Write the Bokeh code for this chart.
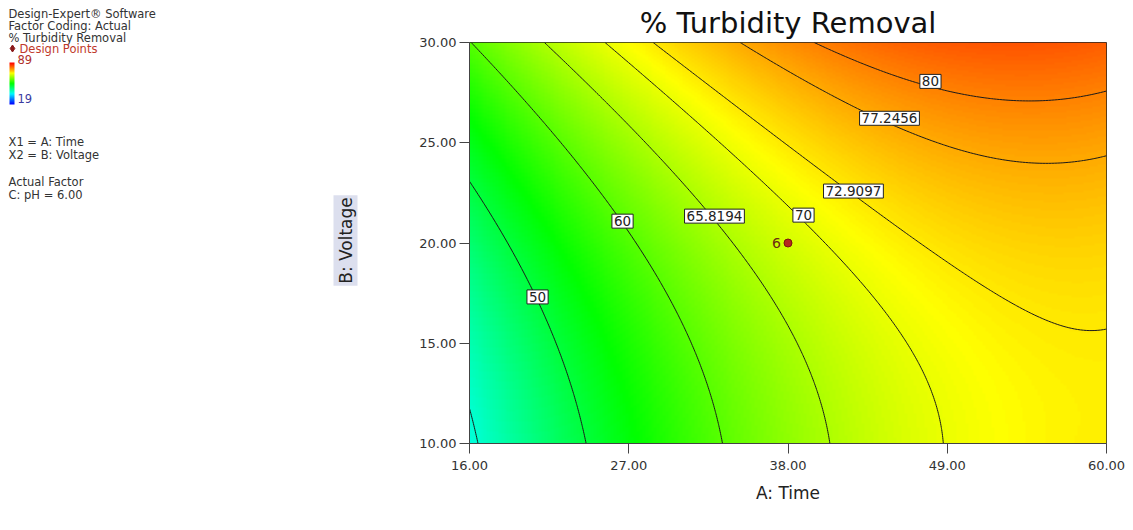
import numpy as np
from bokeh.plotting import figure
from bokeh.models import (Range1d, FixedTicker, LinearColorMapper, ColumnDataSource,
                          NumeralTickFormatter)
from bokeh.layouts import row
from bokeh.core.properties import value
from bokeh.embed import file_html
from bokeh.resources import INLINE

# ---------------- data ----------------
# points on the drawn contour lines (A: Time [min], B: Voltage [V]) and their level
cont_level = [40, 40,
              50, 50, 50, 50,
              60, 60, 60, 60,
              65.8194, 65.8194, 65.8194, 65.8194, 65.8194, 65.8194,
              70, 70, 70, 70, 70,
              72.9097, 72.9097, 72.9097, 72.9097, 72.9097, 72.9097, 72.9097,
              77.2456, 77.2456, 77.2456, 77.2456,
              80, 80, 80, 80]
cont_time = [16.0, 16.62,
             16.07, 18.14, 20.70, 24.01,
             16.0, 26.6, 29.88, 33.48,
             21.25, 25.05, 28.71, 33.06, 36.79, 40.80,
             25.39, 33.82, 39.0, 43.9, 48.95,
             28.92, 31.96, 38.17, 42.52, 47.64, 57.5, 59.93,
             34.58, 45.08, 55.44, 59.93,
             39.69, 47.84, 54.27, 59.93]
cont_voltage = [11.64, 10.0,
                22.99, 20.6, 17.36, 10.0,
                30.0, 21.1, 17.11, 10.0,
                30.0, 27.2, 24.58, 21.09, 17.11, 10.0,
                30.0, 24.58, 21.34, 17.11, 10.0,
                30.0, 28.2, 24.58, 22.59, 19.6, 15.87, 15.87,
                30.0, 25.82, 23.93, 24.33,
                30.0, 28.06, 26.97, 27.56]

contour_levels = [40, 50, 60, 65.8194, 70, 72.9097, 77.2456, 80]

label_text = ["50", "60", "65.8194", "70", "72.9097", "77.2456", "80"]
label_time = [20.70, 26.57, 32.92, 39.07, 42.52, 45.01, 47.84]
label_voltage = [17.31, 21.09, 21.34, 21.39, 22.59, 26.22, 28.06]

design_time = [38.0]
design_voltage = [20.0]
design_reps = ["6"]

x_ticks = [16, 27, 38, 49, 60]
y_ticks = [10, 15, 20, 25, 30]
resp_low, resp_high = 19, 89

info_text = ["Design-Expert\u00ae Software", "Factor Coding: Actual", "% Turbidity Removal",
             "Design Points", str(resp_high), str(resp_low),
             "X1 = A: Time", "X2 = B: Voltage", "Actual Factor", "C: pH = 6.00"]
info_color = ["#333333", "#333333", "#333333", "#c0392b", "#b0302a", "#3a3aa0",
              "#333333", "#333333", "#333333", "#333333"]

# ---------------- quadratic response surface fitted to the read contours ----------------
A = np.array(cont_time); B = np.array(cont_voltage); Y = np.array(cont_level)
X = np.column_stack([np.ones_like(A), A, B, A * B, A ** 2, B ** 2])
coef, *_ = np.linalg.lstsq(X, Y, rcond=None)

ax = np.linspace(16, 60, 221)
ay = np.linspace(10, 30, 201)
GA, GB = np.meshgrid(ax, ay)
Z = (coef[0] + coef[1] * GA + coef[2] * GB + coef[3] * GA * GB
     + coef[4] * GA ** 2 + coef[5] * GB ** 2)

# Design-Expert style colour ramp: blue - cyan - green - yellow - red
anchors = [(0, 0, 255), (0, 255, 255), (0, 255, 0), (255, 255, 0), (255, 0, 0)]
palette = []
n = 256
for i in range(n):
    t = i / (n - 1) * (len(anchors) - 1)
    k = min(int(t), len(anchors) - 2)
    f = t - k
    c = [round(anchors[k][j] + (anchors[k + 1][j] - anchors[k][j]) * f) for j in range(3)]
    palette.append("#%02x%02x%02x" % tuple(c))
mapper = LinearColorMapper(palette=palette, low=resp_low, high=resp_high)

FONT = value("DejaVu Sans")
H = 526
LW = 400            # width of the left information panel
FL, FT, FR, FB = 469, 41, 1106, 443   # frame edges on the page

# ---------------- main contour plot ----------------
MW = 725
p = figure(width=MW, height=H, x_range=Range1d(16, 60), y_range=Range1d(10, 30),
           output_backend="svg", toolbar_location=None,
           min_border_left=FL - LW, min_border_right=LW + MW - FR, min_border_top=FT,
           min_border_bottom=H - FB, title="% Turbidity Removal")
p.title.align = "center"
p.title.text_font = "DejaVu Sans"
p.title.text_font_size = "29px"
p.title.text_font_style = "normal"
p.title.text_color = "#111111"
p.title.standoff = 6
p.title.offset = 12

p.image(image=[Z], x=16, y=10, dw=44, dh=20, color_mapper=mapper)
p.contour(ax, ay, Z, levels=contour_levels, line_color="#1a1a1a", line_width=1)

lab_src = ColumnDataSource(dict(x=label_time, y=label_voltage, t=label_text))
p.text(x="x", y="y", text="t", source=lab_src, text_font=FONT, text_font_size="13.5px",
       text_align="center", text_baseline="middle", text_color="#222222",
       background_fill_color="white", border_line_color="#222222", border_line_width=1,
       padding=2)

dp_src = ColumnDataSource(dict(x=design_time, y=design_voltage, t=design_reps))
p.scatter(x="x", y="y", source=dp_src, size=8, marker="circle",
          fill_color="#b5261e", line_color="#7a1410")
p.text(x="x", y="y", text="t", source=dp_src, text_font=FONT, text_font_size="14px",
       text_align="right", text_baseline="middle", text_color="#6b2a10", x_offset=-7)

p.grid.visible = False
p.outline_line_color = "#222222"
p.xaxis.ticker = FixedTicker(ticks=x_ticks)
p.yaxis.ticker = FixedTicker(ticks=y_ticks)
p.xaxis.formatter = NumeralTickFormatter(format="0.00")
p.yaxis.formatter = NumeralTickFormatter(format="0.00")
for a in (p.xaxis[0], p.yaxis[0]):
    a.major_tick_out = 10
    a.major_tick_in = 0
    a.minor_tick_out = 0
    a.minor_tick_in = 0
    a.axis_line_color = "#444444"
    a.major_tick_line_color = "#444444"
    a.major_label_text_font = "DejaVu Sans"
    a.major_label_text_font_size = "13px"
    a.major_label_text_color = "#333333"
    a.axis_label_text_font = "DejaVu Sans"
    a.axis_label_text_font_size = "17px"
    a.axis_label_text_font_style = "normal"
    a.axis_label_text_color = "#222222"
p.xaxis.axis_label = "A: Time"
p.xaxis.major_label_standoff = 7
p.yaxis.major_label_standoff = 3
p.xaxis.axis_label_standoff = 10

# ---------------- left information panel (page-pixel coordinates) ----------------
lf = figure(width=LW, height=H, x_range=Range1d(0, LW), y_range=Range1d(0, H),
            output_backend="svg", toolbar_location=None, min_border=0,
            x_axis_location=None, y_axis_location=None)
lf.grid.visible = False
lf.outline_line_color = None
for fig in (lf, p):
    if hasattr(fig, "frame_align"):
        fig.frame_align = False

info_px = [8, 8, 8, 19, 17, 17, 8, 8, 8, 8]
info_py = [13, 25, 37, 48, 59, 98, 141, 154, 181, 194]
info_src = ColumnDataSource(dict(x=info_px, y=[H - v for v in info_py], t=info_text, c=info_color))
lf.text(x="x", y="y", text="t", text_color="c", source=info_src, text_font=FONT,
        text_font_size="11.5px", text_align="left", text_baseline="middle")
lf.scatter(x=[12], y=[H - 48], marker="diamond", size=7, fill_color="#8b1a1a",
           line_color="#8b1a1a")
bar = np.linspace(resp_low, resp_high, 64).reshape(-1, 1)
lf.image(image=[bar], x=9, y=H - 104, dw=5, dh=42, color_mapper=mapper)

# y-axis title with its shaded box
lf.text(x=[345], y=[H - 240], text=["B: Voltage"], text_font=FONT, text_font_size="17px",
        text_color="#222222", text_align="center", text_baseline="middle", angle=np.pi / 2,
        background_fill_color="#dcdfee", padding=2)

layout = row(lf, p)
open("out.html", "w").write(file_html(layout, INLINE))
